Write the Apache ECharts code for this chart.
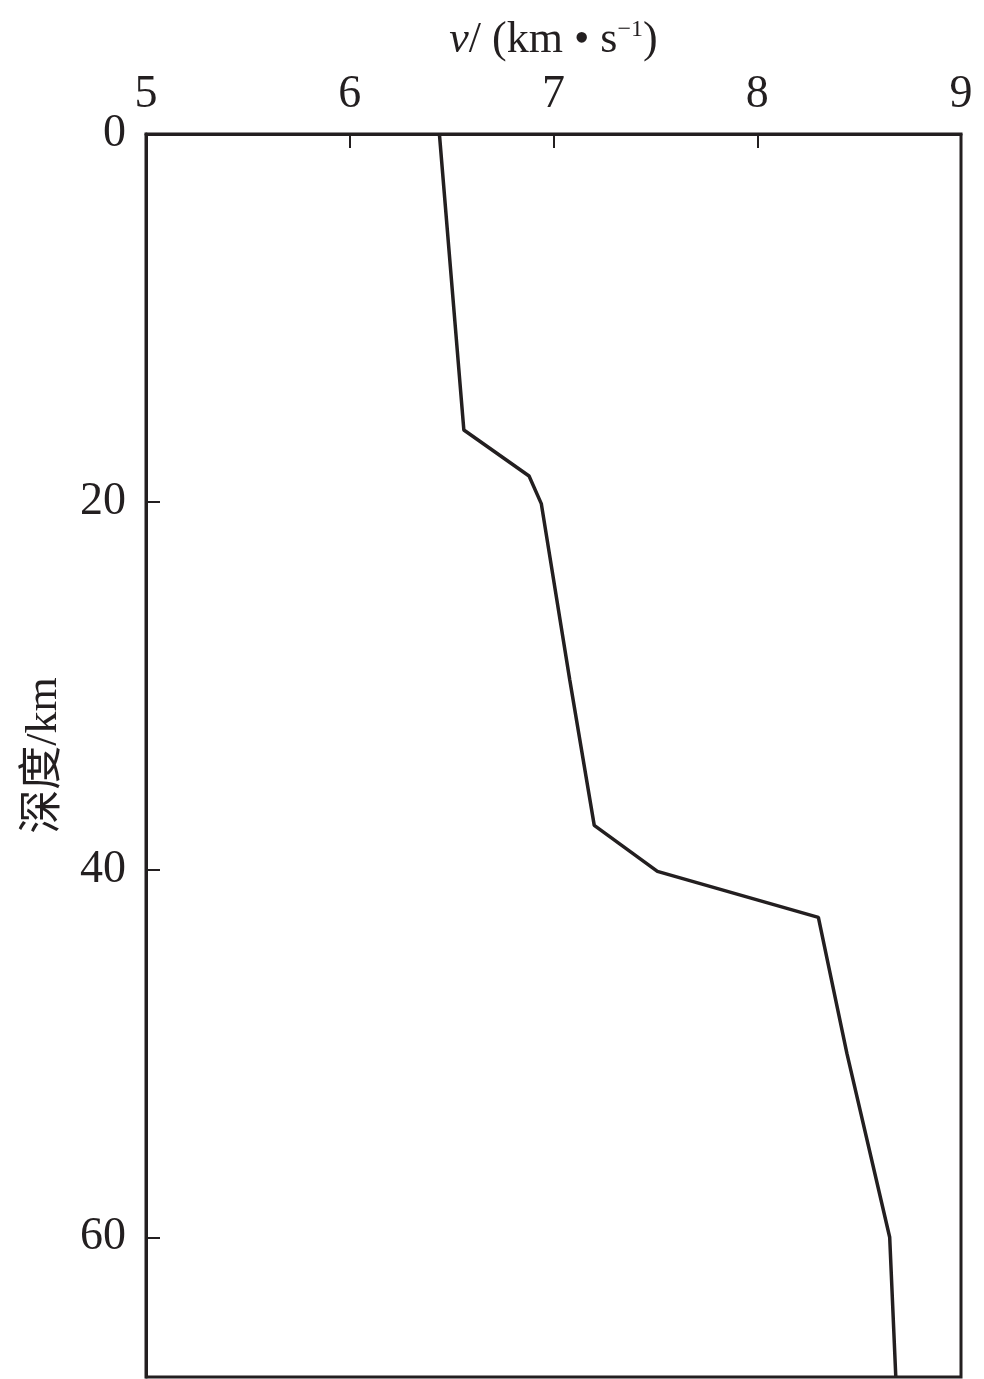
<!DOCTYPE html>
<html>
<head>
<meta charset="utf-8">
<style>
  html, body { margin: 0; padding: 0; background: #fff; }
  #main { width: 984px; height: 1379px; }
</style>
<script src="https://cdn.jsdelivr.net/npm/echarts@6/dist/echarts.min.js"></script>
</head>
<body>
<div id="main"></div>
<script>
// 速度-深度剖面
var velocity = [6.44, 6.56, 6.88, 6.94, 7.08, 7.20, 7.51, 8.30, 8.44, 8.65, 8.68];
var depth = [0, 16.1, 18.6, 20.1, 29.7, 37.6, 40.1, 42.6, 50.0, 60.0, 67.6];

var inkColor = '#231f20';
var serif = '"Liberation Serif", "DejaVu Serif", serif';

var points = velocity.map(function (v, i) { return [v, depth[i]]; });

var myChart = echarts.init(document.getElementById('main'));
myChart.setOption({
  animation: false,
  backgroundColor: '#fff',
  grid: {
    left: 146,
    right: 23,
    top: 134,
    bottom: 2,
    outerBoundsMode: 'none',
    containLabel: false,
    show: true,
    borderColor: inkColor,
    borderWidth: 3
  },
  xAxis: {
    type: 'value',
    position: 'top',
    min: 5,
    max: 9,
    interval: 1,
    name: '{i|v}/ (km • s{sup|−1})',
    nameLocation: 'middle',
    nameGap: 72,
    nameMoveOverlap: false,
    nameTextStyle: {
      fontFamily: serif,
      fontSize: 44,
      color: inkColor,
      rich: {
        i: { fontFamily: serif, fontStyle: 'italic', fontSize: 44, color: inkColor },
        sup: { fontFamily: serif, fontSize: 24, color: inkColor, verticalAlign: 'top', padding: [0, 0, 18, 0] }
      }
    },
    axisLine: { lineStyle: { color: inkColor, width: 3 } },
    axisTick: { inside: true, length: 14, lineStyle: { color: inkColor, width: 2 } },
    axisLabel: { fontFamily: serif, fontSize: 46, color: inkColor, margin: 16 },
    splitLine: { show: false }
  },
  yAxis: {
    type: 'value',
    inverse: true,
    min: 0,
    max: 67.6,
    interval: 20,
    name: '深度/km',
    nameLocation: 'middle',
    nameGap: 80,
    nameMoveOverlap: false,
    nameRotate: 90,
    nameTextStyle: {
      fontFamily: '"Liberation Serif", "Noto Sans CJK SC", serif',
      fontSize: 44,
      color: inkColor
    },
    axisLine: { lineStyle: { color: inkColor, width: 3 } },
    axisTick: { inside: true, length: 14, lineStyle: { color: inkColor, width: 2 } },
    axisLabel: { fontFamily: serif, fontSize: 46, color: inkColor, margin: 20, showMaxLabel: false },
    splitLine: { show: false }
  },
  series: [{
    type: 'line',
    data: points,
    symbol: 'none',
    lineStyle: { color: inkColor, width: 3.5 }
  }]
});
</script>
</body>
</html>
